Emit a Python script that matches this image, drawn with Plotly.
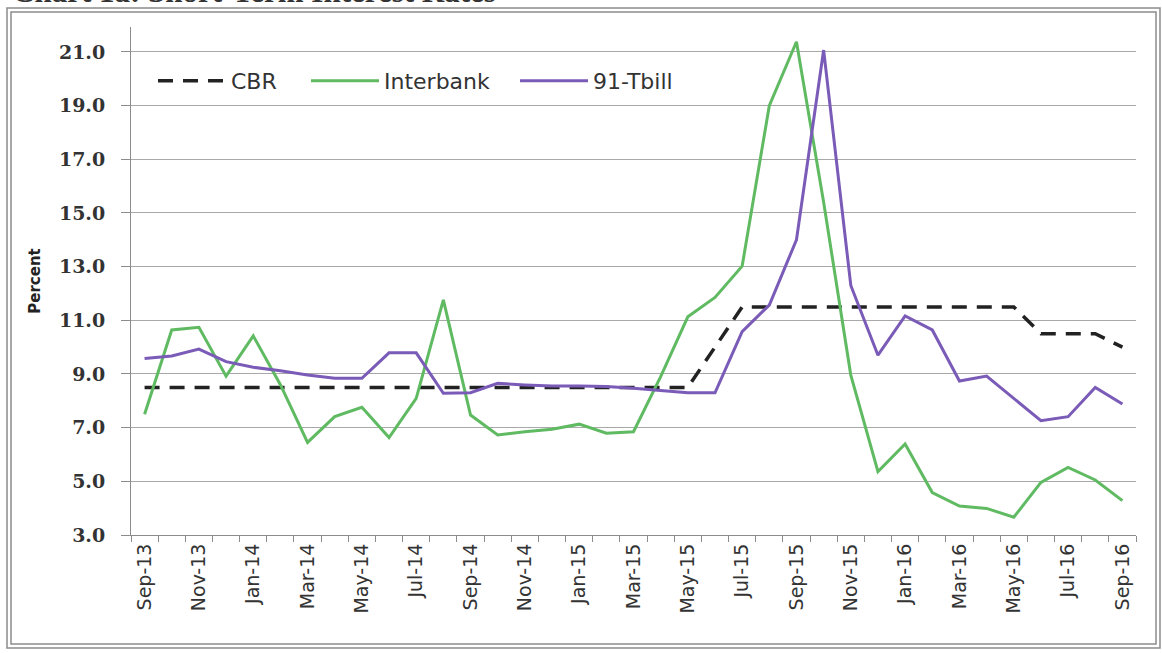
import plotly.graph_objects as go

# Monthly observations, Sep 2013 - Sep 2016
months = [
    "Sep-13", "Oct-13", "Nov-13", "Dec-13",
    "Jan-14", "Feb-14", "Mar-14", "Apr-14", "May-14", "Jun-14",
    "Jul-14", "Aug-14", "Sep-14", "Oct-14", "Nov-14", "Dec-14",
    "Jan-15", "Feb-15", "Mar-15", "Apr-15", "May-15", "Jun-15",
    "Jul-15", "Aug-15", "Sep-15", "Oct-15", "Nov-15", "Dec-15",
    "Jan-16", "Feb-16", "Mar-16", "Apr-16", "May-16", "Jun-16",
    "Jul-16", "Aug-16", "Sep-16",
]

# Central Bank Rate (percent)
cbr = [
    8.5, 8.5, 8.5, 8.5,
    8.5, 8.5, 8.5, 8.5, 8.5, 8.5,
    8.5, 8.5, 8.5, 8.5, 8.5, 8.5,
    8.5, 8.5, 8.5, 8.5, 8.5, 10.0,
    11.5, 11.5, 11.5, 11.5, 11.5, 11.5,
    11.5, 11.5, 11.5, 11.5, 11.5, 10.5,
    10.5, 10.5, 10.0,
]

# Interbank rate (percent)
interbank = [
    7.50, 10.64, 10.74, 8.92,
    10.42, 8.60, 6.45, 7.41, 7.76, 6.63,
    8.09, 11.76, 7.47, 6.73, 6.85, 6.94,
    7.13, 6.79, 6.85, 8.90, 11.13, 11.85,
    13.02, 19.00, 21.38, 15.40, 8.96, 5.36,
    6.39, 4.58, 4.08, 3.99, 3.66, 4.96,
    5.52, 5.05, 4.28,
]

# 91-day Treasury bill rate (percent)
tbill = [
    9.58, 9.67, 9.93, 9.46,
    9.25, 9.12, 8.96, 8.84, 8.84, 9.79,
    9.79, 8.28, 8.30, 8.65, 8.59, 8.55,
    8.55, 8.53, 8.47, 8.38, 8.30, 8.30,
    10.58, 11.57, 14.00, 21.07, 12.30, 9.70,
    11.16, 10.64, 8.74, 8.92, 8.09, 7.26,
    7.41, 8.50, 7.88,
]

y_ticks = [3, 5, 7, 9, 11, 13, 15, 17, 19, 21]

# every second month is labelled
x_labels = [m if i % 2 == 0 else "" for i, m in enumerate(months)]

fig = go.Figure()
fig.add_trace(go.Scatter(
    x=months, y=cbr, name="CBR", mode="lines", legend="legend",
    line=dict(color="#222222", width=3.5, dash="15px,10px"),
))
fig.add_trace(go.Scatter(
    x=months, y=interbank, name="Interbank", mode="lines", legend="legend2",
    line=dict(color="#5fba62", width=3),
))
fig.add_trace(go.Scatter(
    x=months, y=tbill, name="91-Tbill", mode="lines", legend="legend3",
    line=dict(color="#7a5bb7", width=3),
))

# plot area geometry (pixels) used to place the frame and legend entries
L, R, T, B = 131, 26, 27, 118
W, H = 1162, 653
pw, ph = W - L - R, H - T - B


def px_x(p):
    return (p - L) / pw


def px_y(p):
    return (H - B - p) / ph


frame = dict(type="rect", xref="paper", yref="paper",
             line=dict(color="#8c8c8c", width=1.5), layer="below")
fig.add_shape(**frame, x0=px_x(7), x1=px_x(1160), y0=px_y(648), y1=px_y(8))
fig.add_shape(**frame, x0=px_x(11), x1=px_x(1156), y0=px_y(644), y1=px_y(12))

# chart heading, running off the top edge of the page
fig.add_annotation(
    text="<b>Chart 1a: Short-Term Interest Rates</b>",
    xref="paper", yref="paper", x=px_x(10), y=px_y(-8),
    xanchor="left", yanchor="middle", showarrow=False,
    font=dict(family="Liberation Serif", size=31, color="#333333"),
)


def legend_at(px_left):
    return dict(
        orientation="h", x=px_x(px_left), y=px_y(81),
        xanchor="left", yanchor="middle",
        bgcolor="rgba(0,0,0,0)",
        font=dict(family="DejaVu Sans", size=22, color="#333333"),
        itemwidth=68,
    )


fig.update_layout(
    width=W, height=H,
    margin=dict(l=L, r=R, t=T, b=B, pad=0),
    paper_bgcolor="white", plot_bgcolor="white",
    font=dict(family="DejaVu Sans", color="#333333"),
    showlegend=True,
    legend=legend_at(153),
    legend2=legend_at(306),
    legend3=legend_at(515),
    xaxis=dict(
        type="category", range=[-0.5, len(months) - 0.5],
        tickmode="array", tickvals=months, ticktext=x_labels,
        tickangle=-90, tickson="boundaries",
        ticks="outside", ticklen=6, tickcolor="#8c8c8c",
        showline=True, linecolor="#8c8c8c", linewidth=1,
        showgrid=False, zeroline=False,
        tickfont=dict(family="DejaVu Sans", size=19, color="#333333"),
    ),
    yaxis=dict(
        range=[3, 21.93], tickmode="array", tickvals=y_ticks,
        tickformat=".1f",
        ticks="outside", ticklen=9, tickcolor="#8c8c8c",
        showline=True, linecolor="#8c8c8c", linewidth=1,
        showgrid=True, gridcolor="#a8a8a8", gridwidth=1,
        zeroline=False, ticklabelstandoff=12,
        tickfont=dict(family="DejaVu Serif", size=19, color="#333333",
                      weight="bold"),
        title=dict(text="<b>Percent</b>", standoff=14,
                   font=dict(family="DejaVu Sans", size=15, color="#222222")),
    ),
)

fig.write_html("out.html")
